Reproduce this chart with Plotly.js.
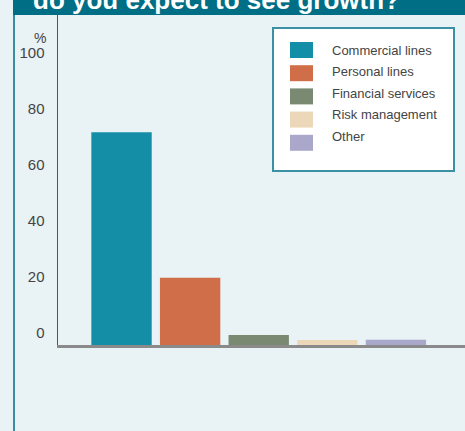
<!DOCTYPE html>
<html>
<head>
<meta charset="utf-8">
<script src="https://cdn.plot.ly/plotly-3.0.1.min.js"></script>
<style>html,body{margin:0;padding:0;background:#e9f2f5;}#chart{width:465px;height:431px;}</style>
</head>
<body>
<div id="chart"></div>
<script>
// Data
const categories = ["Commercial lines", "Personal lines", "Financial services", "Risk management", "Other"];
const values = [76, 24, 3.6, 1.8, 1.9];
const colors = ["#138ea6", "#d06e4a", "#7a8a72", "#ecd8b8", "#a9a8cb"];
const tickValues = [0, 20, 40, 60, 80, 100];
const tickLabels = ["0", "20", "40", "60", "80", "100"];
const titleText = "do you expect to see growth?";

const W = 465, H = 431;
const px = x => x / W;
const py = y => 1 - y / H;

const traces = categories.map((c, i) => ({
  type: "bar",
  name: c,
  x: [c],
  y: [values[i]],
  width: 0.88,
  marker: { color: colors[i], line: { width: 0 } },
  showlegend: false,
  hoverinfo: "skip"
}));

const shapes = [
  { type: "rect", xref: "paper", yref: "paper", x0: px(13), x1: px(465), y0: py(15), y1: py(0), fillcolor: "#006e85", line: { width: 0 }, layer: "below" },
  { type: "line", xref: "paper", yref: "paper", x0: px(14), x1: px(14), y0: py(15), y1: py(431), line: { color: "#3a8ea2", width: 2 } },
  { type: "rect", xref: "paper", yref: "paper", x0: px(273), x1: px(454), y0: py(171), y1: py(28), fillcolor: "#ffffff", line: { color: "#3b91a3", width: 2 } }
];
const annotations = [
  { xref: "paper", yref: "paper", x: px(31), y: py(0), xanchor: "left", yanchor: "middle", showarrow: false,
    text: "<b>" + titleText + "</b>", font: { family: "Liberation Sans, Arial, sans-serif", size: 26, color: "#ffffff" } },
  { xref: "paper", yref: "paper", x: px(40), y: py(38), xanchor: "center", yanchor: "middle", showarrow: false,
    text: "%", font: { family: "Liberation Sans, Arial, sans-serif", size: 14, color: "#444444" } }
];
categories.forEach((c, i) => {
  shapes.push({ type: "rect", xref: "paper", yref: "paper", x0: px(290), x1: px(313),
    y0: py(58 + 23.2 * i), y1: py(42 + 23.2 * i), fillcolor: colors[i], line: { width: 0 } });
  annotations.push({ xref: "paper", yref: "paper", x: px(330), y: py(50.5 + 21.4 * i), xanchor: "left", yanchor: "middle",
    showarrow: false, text: c, font: { family: "Liberation Sans, Arial, sans-serif", size: 13, color: "#444444" } });
});

const layout = {
  width: W, height: H,
  margin: { l: 0, r: 0, t: 0, b: 0, pad: 0 },
  paper_bgcolor: "#e9f2f5",
  plot_bgcolor: "#e9f2f5",
  barmode: "overlay",
  showlegend: false,
  xaxis: {
    domain: [px(58), 1],
    type: "category",
    range: [-0.926, 5.007],
    showticklabels: false,
    ticks: "",
    showgrid: false,
    zeroline: false,
    showline: true,
    linecolor: "#8a8a8a",
    linewidth: 2.5,
    fixedrange: true
  },
  yaxis: {
    domain: [py(345), py(15)],
    range: [0, 117.86],
    tickvals: tickValues,
    ticktext: tickLabels,
    ticks: "",
    ticklabelshift: -12,
    ticklabelstandoff: 9,
    tickfont: { family: "Liberation Sans, Arial, sans-serif", size: 15, color: "#444444" },
    showgrid: false,
    zeroline: false,
    showline: true,
    linecolor: "#555555",
    linewidth: 1.5,
    fixedrange: true
  },
  shapes: shapes,
  annotations: annotations
};

Plotly.newPlot("chart", traces, layout, { displayModeBar: false, staticPlot: true });
</script>
</body>
</html>
